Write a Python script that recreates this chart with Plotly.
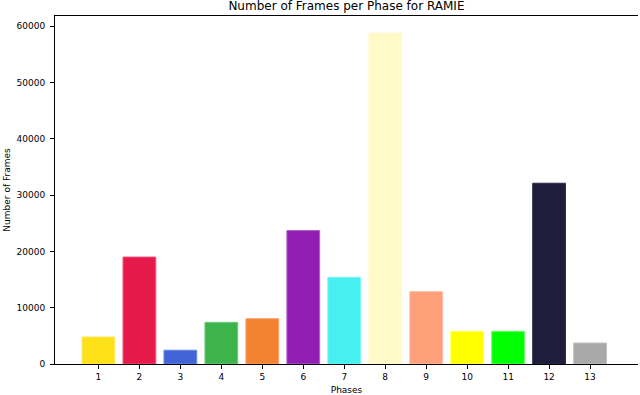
import plotly.graph_objects as go

phases = ["1", "2", "3", "4", "5", "6", "7", "8", "9", "10", "11", "12", "13"]
frames = [4800, 19000, 2450, 7400, 8050, 23700, 15400, 58800, 12850, 5800, 5800, 32100, 3730]
colors = ["#FFE119", "#E6194B", "#4363D8", "#3CB44B", "#F58231", "#911EB4", "#46F0F0",
          "#FFFAC8", "#FFA07A", "#FFFF00", "#00FF00", "#1E1E3C", "#A9A9A9"]
edge_colors = ["#FFE95E", "#EC5A80", "#6F8AE3", "#72C97D", "#F8A26C", "#B062CB", "#7DF5F5",
               "#FFFBD8", "#FFBDA2", "#FFFF66", "#66FF66", "#2A2A4A", "#BFBFBF"]

x_pos = list(range(1, len(phases) + 1))

fig = go.Figure(go.Bar(
    x=x_pos, y=frames, width=0.8,
    marker=dict(color=colors, line=dict(color=edge_colors, width=1)),
))

font = "DejaVu Sans"
fig.update_layout(
    width=640, height=395,
    margin=dict(l=55, r=2, t=16, b=31, autoexpand=False),
    paper_bgcolor="white", plot_bgcolor="white",
    showlegend=False,
    font=dict(family=font, size=9, color="black"),
    title=dict(text="Number of Frames per Phase for RAMIE", x=0.5413, xanchor="center",
               y=0.995, yanchor="top", font=dict(family=font, size=12, color="black")),
    bargap=0.2,
)
fig.update_xaxes(
    range=[-0.06, 14.17], tickmode="array", tickvals=x_pos, ticktext=phases,
    showline=True, linecolor="black", linewidth=1, mirror=True,
    ticks="outside", ticklen=4, tickcolor="black", showgrid=False, zeroline=False,
    title=dict(text="Phases", standoff=6, font=dict(size=9)),
    tickfont=dict(size=9), automargin=False,
)
fig.update_yaxes(
    range=[0, 61800], tickmode="array", tickvals=[0, 10000, 20000, 30000, 40000, 50000, 60000],
    ticktext=["0", "10000", "20000", "30000", "40000", "50000", "60000"],
    showline=True, linecolor="black", linewidth=1, mirror=False,
    ticks="outside", ticklen=4, tickcolor="black", showgrid=False, zeroline=False,
    title=dict(text="Number of Frames", standoff=4, font=dict(size=9)),
    tickfont=dict(size=9), automargin=False, ticklabelstandoff=3,
)

fig.write_html(
    "out.html",
    config={"displayModeBar": False},
    post_script="document.body.style.margin='0';document.body.style.overflow='hidden';",
)
